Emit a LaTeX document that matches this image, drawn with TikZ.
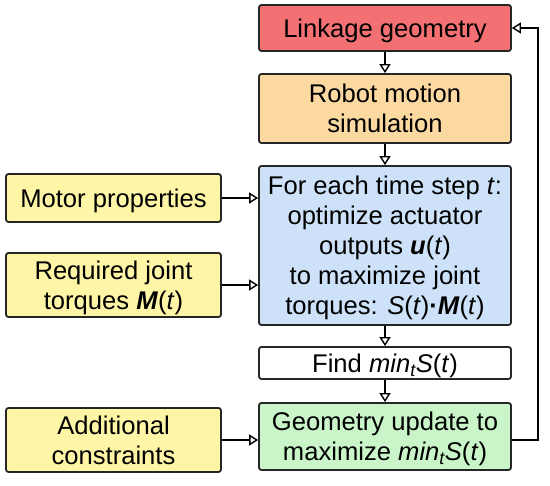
\documentclass[tikz,border=0pt]{standalone}
\usepackage{fontspec}
\setmainfont{Liberation Sans}
\usetikzlibrary{arrows.meta}
\definecolor{cred}{HTML}{F37073}
\definecolor{corange}{HTML}{FDD9A2}
\definecolor{cblue}{HTML}{CDE1F8}
\definecolor{cyellow}{HTML}{FFF5A6}
\definecolor{cgreen}{HTML}{C9F5C9}
\begin{document}
\begin{tikzpicture}[x=1pt,y=-1pt,
  box/.style={draw=black!85, line width=1.8pt, rounded corners=2.5pt, align=center,
    font=\fontsize{25.6}{30}\selectfont, inner sep=0pt, text depth=0pt},
  arr/.style={line width=1.6pt, -{Triangle[length=9pt,width=11pt,fill=white,line width=1.4pt]}}]
\useasboundingbox (0,0) rectangle (550,486);
\node[box, fill=cred, minimum width=252pt, minimum height=46pt] (link) at (385,28) {Linkage geometry};
\node[box, fill=corange, minimum width=252pt, minimum height=69pt] (robot) at (385,108.5) {Robot motion\\simulation};
\node[box, fill=cblue, minimum width=252pt, minimum height=159pt] (opt) at (385,245.5) {For each time step \textit{t}:\\optimize actuator\\outputs \textbf{\textit{u}}(\textit{t})\\to maximize joint\\torques: \textit{S}(\textit{t})\textbf{·}\textbf{\textit{M}}(\textit{t})};
\node[box, fill=white, minimum width=252pt, minimum height=32pt] (find) at (385,363) {Find \textit{min\textsubscript{t}S}(\textit{t})};
\node[box, fill=cgreen, minimum width=252pt, minimum height=67pt] (geo) at (385,436.5) {Geometry update to\\maximize \textit{min\textsubscript{t}S}(\textit{t})};
\node[box, fill=cyellow, minimum width=215pt, minimum height=48pt] (motor) at (113.5,198) {Motor properties};
\node[box, fill=cyellow, minimum width=215pt, minimum height=64pt] (req) at (113.5,285) {Required joint\\torques \textbf{\textit{M}}(\textit{t})};
\node[box, fill=cyellow, minimum width=215pt, minimum height=64pt] (add) at (113.5,440) {Additional\\constraints};
\coordinate (rc) at (538,0);
\draw[arr] (link) -- (robot);
\draw[arr] (robot) -- (opt);
\draw[arr] (opt) -- (find);
\draw[arr] (find) -- (geo);
\draw[arr] (motor.east) -- (motor.east -| opt.west);
\draw[arr] (req.east) -- (req.east -| opt.west);
\draw[arr] (add.east) -- (add.east -| geo.west);
\draw[arr] (geo.east |- add.east) -- (rc |- add.east) -- (rc |- link.east) -- (link.east);
\end{tikzpicture}
\end{document}
